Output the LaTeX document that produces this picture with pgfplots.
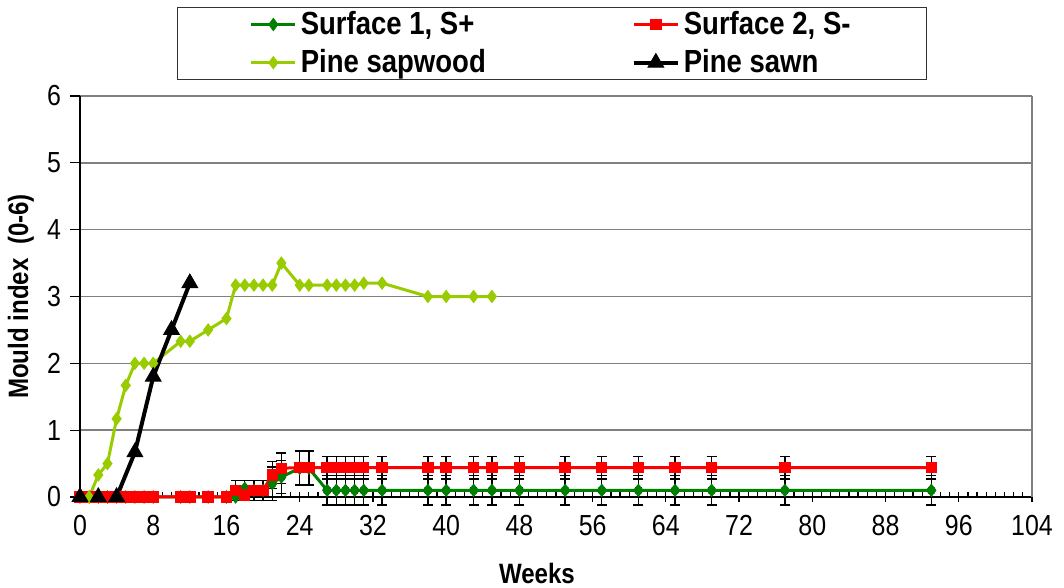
\documentclass[border=0pt]{standalone}
\usepackage{fontspec}
\setmainfont{Liberation Sans}[FakeStretch=0.86]
\usepackage{pgfplots}
\pgfplotsset{compat=1.18}
\usepackage{pgfplotstable}

\definecolor{sgreen}{HTML}{008000}
\definecolor{sred}{HTML}{FF0000}
\definecolor{sap}{HTML}{99CC00}

% Surface 1, S+
\pgfplotstableread{
w y
0 0
1 0
2 0
3 0
4 0
5 0
6 0
7 0
8 0
11 0
12 0
14 0
16 0
17 0
18 0.13
19 0.1
20 0.1
21 0.2
22 0.3
24 0.43
25 0.43
27 0.1
28 0.1
29 0.1
30 0.1
31 0.1
33 0.1
38 0.1
40 0.1
43 0.1
45 0.1
48 0.1
53 0.1
57 0.1
61 0.1
65 0.1
69 0.1
77 0.1
93 0.1
}\surfA

% Surface 2, S-
\pgfplotstableread{
w y
0 0
1 0
2 0
3 0
4 0
5 0
6 0
7 0
8 0
11 0
12 0
14 0
16 0
17 0.1
18 0.03
19 0.1
20 0.1
21 0.33
22 0.43
24 0.44
25 0.44
27 0.44
28 0.44
29 0.44
30 0.44
31 0.44
33 0.44
38 0.44
40 0.44
43 0.44
45 0.44
48 0.44
53 0.44
57 0.44
61 0.44
65 0.44
69 0.44
77 0.44
93 0.44
}\surfB

% error bars, Surface 1
\pgfplotstableread{
w y e
18 0.13 0.12
21 0.2 0.25
22 0.3 0.25
24 0.43 0.25
25 0.43 0.25
27 0.1 0.22
28 0.1 0.22
29 0.1 0.22
30 0.1 0.22
31 0.1 0.22
33 0.1 0.22
38 0.1 0.22
40 0.1 0.22
43 0.1 0.22
45 0.1 0.22
48 0.1 0.22
53 0.1 0.22
57 0.1 0.22
61 0.1 0.22
65 0.1 0.22
69 0.1 0.22
77 0.1 0.22
93 0.1 0.22
}\errA

% error bars, Surface 2
\pgfplotstableread{
w y e
17 0.1 0.15
19 0.1 0.15
20 0.1 0.15
21 0.33 0.2
22 0.43 0.23
24 0.44 0.25
25 0.44 0.25
27 0.44 0.17
28 0.44 0.17
29 0.44 0.17
30 0.44 0.17
31 0.44 0.17
33 0.44 0.17
38 0.44 0.17
40 0.44 0.17
43 0.44 0.17
45 0.44 0.17
48 0.44 0.17
53 0.44 0.17
57 0.44 0.17
61 0.44 0.17
65 0.44 0.17
69 0.44 0.17
77 0.44 0.17
93 0.44 0.17
}\errB

% Pine sapwood
\pgfplotstableread{
w y
1 0
2 0.33
3 0.5
4 1.17
5 1.67
6 2.0
7 2.0
8 2.0
11 2.33
12 2.33
14 2.5
16 2.67
17 3.17
18 3.17
19 3.17
20 3.17
21 3.17
22 3.5
24 3.17
25 3.17
27 3.17
28 3.17
29 3.17
30 3.17
31 3.2
33 3.2
38 3.0
40 3.0
43 3.0
45 3.0
}\sapwood

% Pine sawn
\pgfplotstableread{
w y
0 0
2 0
4 0
6 0.67
8 1.8
10 2.5
12 3.2
}\sawn

\begin{document}
\begin{tikzpicture}
\begin{axis}[
  scale only axis, width=476pt, height=200.5pt,
  xmin=0, xmax=104, ymin=0, ymax=6,
  xtick={0,8,...,104}, ytick={0,1,...,6},
  axis lines*=left,
  axis line style={-, black, line width=0.8pt},
  ymajorgrids, grid style={black!50, line width=0.8pt},
  xtick align=center, ytick align=outside,
  major tick length=5pt,
  tick style={black, line width=0.6pt},
  extra x ticks={1,...,103}, extra x tick labels={},
  extra x tick style={xtick align=inside, major tick length=2.5pt},
  clip=false,
  /pgf/number format/assume math mode=true,
  tick label style={font=\fontsize{14.5}{16}\selectfont},
  xticklabel style={yshift=-3pt},
  yticklabel style={xshift=-1pt},
  xlabel={Weeks}, ylabel={Mould index\ \ (0-6)},
  label style={font=\bfseries\fontsize{14}{16}\selectfont},
  xlabel style={at={(axis description cs:0.48,-0.19)}, anchor=center},
  ylabel style={at={(axis description cs:-0.062,0.5)}, anchor=center},
  legend columns=2,
  legend cell align=left,
  legend image code/.code={\draw[mark repeat=2,mark phase=2,#1] plot coordinates {(0pt,0pt) (11pt,0pt) (22pt,0pt)};},
  legend style={at={(0.496,1.222)}, anchor=north, draw=black!80,
    font=\bfseries\fontsize{16}{18}\selectfont,
    inner xsep=36pt, inner ysep=0pt, /tikz/row sep=2pt,
    /tikz/every even column/.append style={column sep=71pt}},
]
\addplot[forget plot, only marks, mark=none,
  error bars/.cd, y dir=both, y explicit,
  error bar style={black, line width=0.7pt},
  error mark options={rotate=90, black, mark size=2.5pt, line width=0.7pt}]
  table[x=w, y=y, y error=e] {\errA};
\addplot[forget plot, only marks, mark=none,
  error bars/.cd, y dir=both, y explicit,
  error bar style={black, line width=0.7pt},
  error mark options={rotate=90, black, mark size=2.5pt, line width=0.7pt}]
  table[x=w, y=y, y error=e] {\errB};

\addplot[sgreen, line width=1.5pt, mark=diamond*, mark size=3pt,
  mark options={solid, fill=sgreen, line width=0.5pt}]
  table[x=w, y=y] {\surfA};
\addlegendentry{Surface 1, S+}
\addplot[sred, line width=1.5pt, mark=square*, mark size=2.6pt,
  mark options={solid, fill=sred, line width=0.5pt}]
  table[x=w, y=y] {\surfB};
\addlegendentry{Surface 2, S-}
\addplot[sap, line width=1.5pt, mark=diamond*, mark size=3pt,
  mark options={solid, fill=sap, line width=0.5pt}]
  table[x=w, y=y] {\sapwood};
\addlegendentry{Pine sapwood}
\addplot[black, line width=2pt, mark=triangle*, mark size=4.5pt,
  mark options={solid, fill=black, line width=0.5pt}]
  table[x=w, y=y] {\sawn};
\addlegendentry{Pine sawn}

\draw[black!50, line width=0.8pt] (rel axis cs:1,0) -- (rel axis cs:1,1);
\end{axis}
\pgfresetboundingbox
\path[use as bounding box] (-40pt,-45.5pt) rectangle (492pt,248.5pt);
\end{tikzpicture}
\end{document}
